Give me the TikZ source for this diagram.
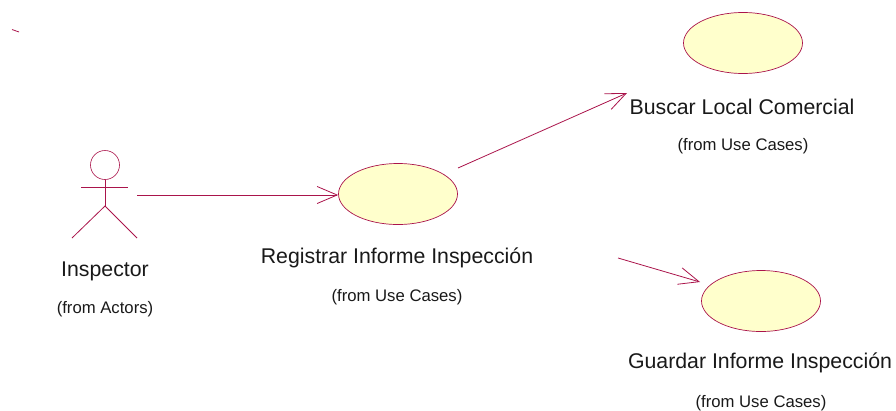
\documentclass[tikz,border=0pt]{standalone}
\usepackage{fontspec}
\setmainfont{Liberation Sans}
\usetikzlibrary{arrows.meta,shapes.geometric}
\definecolor{umlline}{RGB}{170,20,75}
\definecolor{umlfill}{RGB}{255,255,204}
\tikzset{
  usecase/.style={ellipse,draw=umlline,fill=umlfill,line width=0.7pt,minimum width=119pt,minimum height=61pt,inner sep=0pt},
  biglabel/.style={font=\fontsize{21.3}{24}\selectfont,text=black!90,inner sep=0pt,anchor=center},
  smalllabel/.style={font=\fontsize{16.7}{19}\selectfont,text=black!90,inner sep=0pt,anchor=center},
  assoc/.style={draw=umlline,line width=0.8pt,-{Straight Barb[length=20pt,width=17pt,line width=0.8pt]}},
  figure/.style={draw=umlline,line width=0.8pt}
}
\begin{document}
\begin{tikzpicture}[x=1pt,y=-1pt]
\useasboundingbox (0,0) rectangle (896,410);
\node[usecase] (reg) at (398,194) {};
\node[usecase] (bus) at (743,43) {};
\node[usecase] (gua) at (761,301) {};
\node[circle,draw=umlline,line width=0.6pt,minimum size=29pt,inner sep=0pt] (head) at (105,165) {};
\coordinate (armL) at (81,187);
\coordinate (armR) at (128,187);
\coordinate (hip) at (105,206);
\coordinate (legL) at (72,238);
\coordinate (legR) at (137,238);
\draw[figure] (head.south) -- (hip);
\draw[figure] (armL) -- (armR);
\draw[figure] (legL) -- (hip) -- (legR);
\coordinate (a1) at (137,195);
\coordinate (a2s) at (458,168);
\coordinate (a2e) at (627,93);
\coordinate (a3s) at (618,258);
\coordinate (a3e) at (700,282);
\coordinate (t1) at (12,29.5);
\coordinate (t2) at (19,32);
\draw[assoc] (a1) -- (a1 -| reg.west);
\draw[assoc] (a2s) -- (a2e);
\draw[assoc] (a3s) -- (a3e);
\draw[figure] (t1) -- (t2);
\node[biglabel] (l0) at (105,271) {Inspector};
\node[smalllabel] (s0) at (105,309) {(from Actors)};
\node[biglabel] (l1) at (397,258) {Registrar Informe Inspección};
\node[smalllabel] (s1) at (397,297) {(from Use Cases)};
\node[biglabel] (l2) at (742,107) {Buscar Local Comercial};
\node[smalllabel] (s2) at (743,146) {(from Use Cases)};
\node[biglabel] (l3) at (760,363) {Guardar Informe Inspección};
\node[smalllabel] (s3) at (761,403) {(from Use Cases)};
\end{tikzpicture}
\end{document}
